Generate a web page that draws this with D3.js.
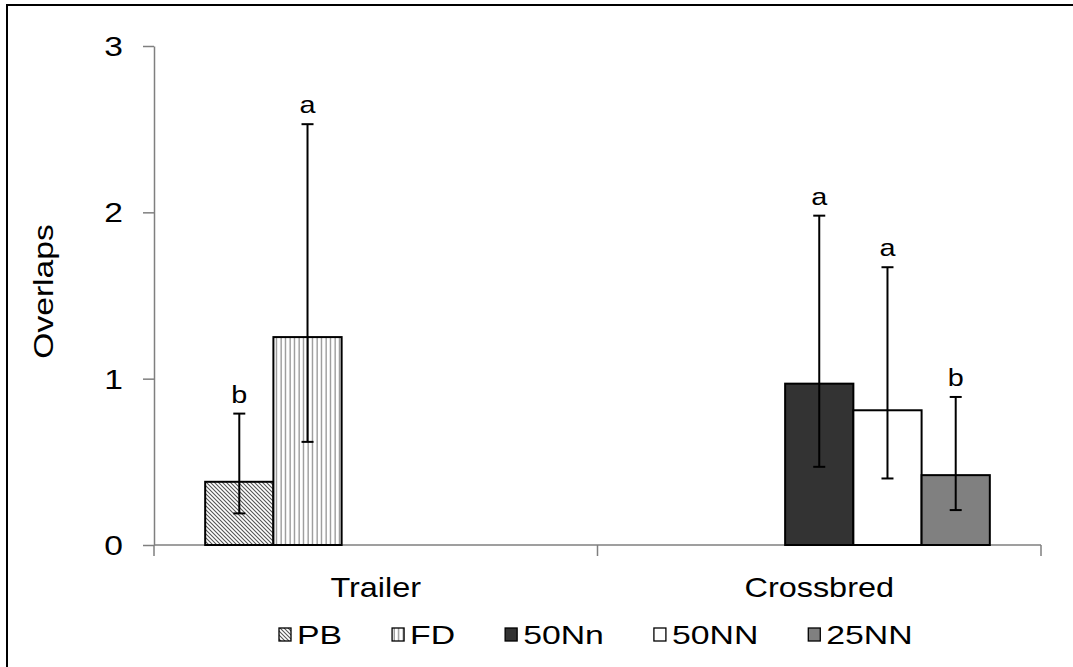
<!DOCTYPE html>
<html><head><meta charset="utf-8">
<script src="https://cdn.jsdelivr.net/npm/d3@7"></script>
<style>
html,body{margin:0;padding:0;background:#fff;}
svg{display:block;font-family:"Liberation Sans",Arial,sans-serif;}
</style></head>
<body><svg id="c" width="1073" height="667"></svg>
<script>
const categories = ["Trailer", "Crossbred"];
const seriesNames = ["PB", "FD", "50Nn", "50NN", "25NN"];
// mean values per series for [Trailer, Crossbred]; null = no bar
const means   = { PB:[0.38,null], FD:[1.25,null], "50Nn":[null,0.97], "50NN":[null,0.81], "25NN":[null,0.42] };
const errLow  = { PB:[0.19,null], FD:[0.62,null], "50Nn":[null,0.47], "50NN":[null,0.40], "25NN":[null,0.21] };
const errHigh = { PB:[0.79,null], FD:[2.53,null], "50Nn":[null,1.98], "50NN":[null,1.67], "25NN":[null,0.89] };
const sigLetters = { PB:["b",null], FD:["a",null], "50Nn":[null,"a"], "50NN":[null,"a"], "25NN":[null,"b"] };
const yTicks = [0, 1, 2, 3];
const yTitle = "Overlaps";

const SX = 1.2; // horizontal stretch of text, as in the reference
const svg = d3.select("#c");
const m = {left:154, right:1041, top:46, bottom:545};

// patterns
const defs = svg.append("defs");
const pDiag = defs.append("pattern").attr("id","pDiag").attr("patternUnits","userSpaceOnUse")
  .attr("width",4).attr("height",4);
pDiag.append("rect").attr("width",4).attr("height",4).attr("fill","#fff");
pDiag.append("path").attr("d","M-1,-1 L5,5 M-1,3 L1,5 M3,-1 L5,1").attr("stroke","#555").attr("stroke-width",1.1);
const pVert = defs.append("pattern").attr("id","pVert").attr("patternUnits","userSpaceOnUse")
  .attr("width",4.5).attr("height",4);
pVert.append("rect").attr("width",4.5).attr("height",4).attr("fill","#fff");
pVert.append("rect").attr("x",1.5).attr("width",1.2).attr("height",4).attr("fill","#888");

const fills = {PB:"url(#pDiag)", FD:"url(#pVert)", "50Nn":"#333333", "50NN":"#ffffff", "25NN":"#808080"};

// outer frame
svg.append("rect").attr("x",7).attr("y",5).attr("width",1100).attr("height",700)
  .attr("fill","none").attr("stroke","#000").attr("stroke-width",2);

const x0 = d3.scaleBand().domain(categories).range([m.left, m.right]);
const x1 = d3.scaleBand().domain(seriesNames).range([0, x0.bandwidth()]).paddingOuter(0.75);
const y = d3.scaleLinear().domain([0,3]).range([m.bottom, m.top]);

function stretchedText(sel, x, yy, rot, sx){
  return sel.append("text").attr("transform",`translate(${x},${yy})${rot?` rotate(${rot})`:""} scale(${sx||SX},1)`);
}

const axisColor = "#7f7f7f";
// y axis
const yAx = svg.append("g").attr("transform",`translate(${m.left},0)`)
  .call(d3.axisLeft(y).tickValues(yTicks).tickSize(11).tickSizeOuter(0).tickFormat(""));
yAx.select(".domain").attr("stroke",axisColor).attr("stroke-width",1.5);
yAx.selectAll(".tick line").attr("stroke",axisColor).attr("stroke-width",1.5);
const ytl = svg.append("g");
yTicks.forEach(t=>{
  stretchedText(ytl, 123, y(t)+10).attr("text-anchor","end").attr("font-size",28).text(d3.format("d")(t));
});

// x axis with boundary ticks
const xg = svg.append("g");
xg.append("line").attr("x1",m.left).attr("x2",m.right).attr("y1",m.bottom).attr("y2",m.bottom)
  .attr("stroke",axisColor).attr("stroke-width",1.5);
const bounds = categories.map(c=>x0(c)).concat([x0(categories[categories.length-1])+x0.bandwidth()]);
xg.selectAll("line.bt").data(bounds).join("line").attr("class","bt")
  .attr("x1",d=>d).attr("x2",d=>d).attr("y1",m.bottom).attr("y2",m.bottom+11)
  .attr("stroke",axisColor).attr("stroke-width",1.5);
categories.forEach(c=>{
  stretchedText(xg, x0(c)+x0.bandwidth()/2, m.bottom+52).attr("text-anchor","middle").attr("font-size",27).text(c);
});

// y title
stretchedText(svg, 53, (m.top+m.bottom)/2 - 4, -90).attr("text-anchor","middle").attr("font-size",28).text(yTitle);

// bars
const recs = [];
categories.forEach((c,ci)=>seriesNames.forEach(s=>{
  if(means[s][ci]!=null) recs.push({c, s, v:means[s][ci], lo:errLow[s][ci], hi:errHigh[s][ci], sig:sigLetters[s][ci]});
}));
const bw = x1.bandwidth();
svg.append("g").selectAll("rect").data(recs).join("rect")
  .attr("x",d=>x0(d.c)+x1(d.s)).attr("y",d=>y(d.v)).attr("width",bw).attr("height",d=>y(0)-y(d.v))
  .attr("fill",d=>fills[d.s]).attr("stroke","#000").attr("stroke-width",2);

// error bars
const eg = svg.append("g").attr("stroke","#000").attr("stroke-width",2);
recs.forEach(d=>{
  const cx = x0(d.c)+x1(d.s)+bw/2;
  eg.append("line").attr("x1",cx).attr("x2",cx).attr("y1",y(d.lo)).attr("y2",y(d.hi));
  eg.append("line").attr("x1",cx-6).attr("x2",cx+6).attr("y1",y(d.lo)).attr("y2",y(d.lo));
  eg.append("line").attr("x1",cx-6).attr("x2",cx+6).attr("y1",y(d.hi)).attr("y2",y(d.hi));
});
const lt = svg.append("g");
recs.forEach(d=>{
  stretchedText(lt, x0(d.c)+x1(d.s)+bw/2, y(d.hi)-11).attr("text-anchor","middle").attr("font-size",24).text(d.sig);
});

// legend
const LSX = 1.3;
const lg = svg.append("g").attr("transform","translate(279,635)");
let lx = 0;
seriesNames.forEach(s=>{
  const g = lg.append("g").attr("transform",`translate(${lx},0)`);
  g.append("rect").attr("x",0).attr("y",-7).attr("width",12).attr("height",13)
    .attr("fill",fills[s]).attr("stroke","#000").attr("stroke-width",1.3);
  const t = stretchedText(g, 18, 9, 0, LSX).attr("font-size",26).text(s);
  lx += 18 + t.node().getComputedTextLength()*LSX + 50;
});
</script></body></html>
